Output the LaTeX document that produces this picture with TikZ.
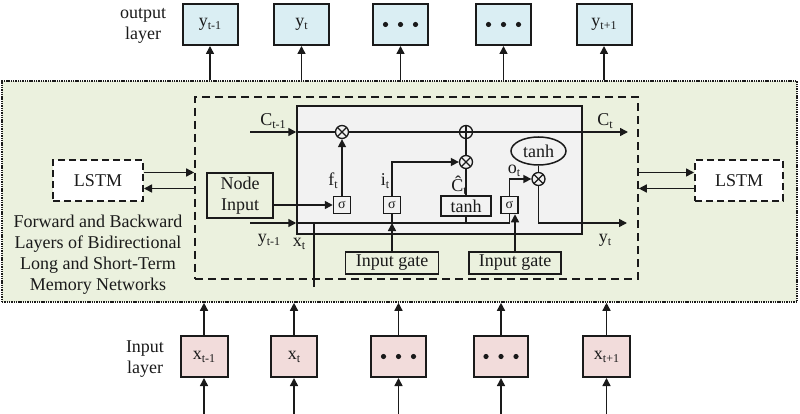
\documentclass[tikz,border=0pt]{standalone}
\usepackage{fontspec}
\setmainfont{Liberation Serif}
\usetikzlibrary{arrows.meta,shapes.geometric}
\definecolor{grn}{HTML}{EBF1DE}
\definecolor{oblue}{HTML}{DAEEF3}
\definecolor{ipink}{HTML}{F2DCDB}
\definecolor{cellg}{HTML}{F2F2F2}
\definecolor{ink}{HTML}{1A1A1A}
\newcommand\sbx[1]{\raisebox{-0.35ex}{\fontsize{12}{12}\selectfont #1}}
\begin{document}
\begin{tikzpicture}[x=1pt,y=-1pt,font=\fontsize{18}{21}\selectfont,color=ink,
  arr/.style={-{Triangle[length=8pt,width=8pt]},line width=1.5pt},
  ln/.style={line width=1.5pt},
  obox/.style={draw,line width=2pt,fill=oblue,minimum width=55pt,minimum height=41pt,inner sep=0pt},
  ibox/.style={draw,line width=2pt,fill=ipink,minimum height=41pt,inner sep=0pt},
  sbox/.style={draw,line width=1.5pt,fill=cellg,minimum width=17pt,minimum height=17pt,inner sep=0pt,font=\fontsize{14}{14}\selectfont},
  gbox/.style={draw,line width=1.5pt,fill=grn,minimum height=22pt,inner sep=0pt},
  lstmbox/.style={draw,line width=2pt,dash pattern=on 7pt off 4pt,fill=white,minimum height=41pt,inner sep=0pt},
  otimes/.style={circle,draw,line width=1.3pt,minimum size=13pt,inner sep=0pt,fill=cellg,
    path picture={\draw[line width=1.3pt] (path picture bounding box.north west) -- (path picture bounding box.south east)
      (path picture bounding box.north east) -- (path picture bounding box.south west);}},
  oplus/.style={circle,draw,line width=1.3pt,minimum size=13pt,inner sep=0pt,fill=cellg,
    path picture={\draw[line width=1.3pt] (path picture bounding box.north) -- (path picture bounding box.south)
      (path picture bounding box.east) -- (path picture bounding box.west);}},
  lbl/.style={inner sep=0pt}]
\useasboundingbox (0,0) rectangle (800,414);
\coordinate (bot) at (0,414);

% green region
\node[draw,line width=1.6pt,dash pattern=on 1.4pt off 0.9pt,fill=grn,minimum width=795pt,minimum height=221pt,inner sep=0pt] (green) at (399.5,191.5) {};
% dashed inner box
\node[draw,line width=1.6pt,dash pattern=on 8pt off 5pt,minimum width=443pt,minimum height=182pt,inner sep=0pt] (dbox) at (416.5,188) {};
% cell
\node[draw,line width=1.5pt,fill=cellg,minimum width=285pt,minimum height=128pt,inner sep=0pt] (cell) at (439.5,170) {};

% output layer
\node[align=center,lbl] (outl) at (143,26) {output\\layer};
\node[obox] (ob1) at (210,24.5) {y\sbx{t-1}};
\node[obox] (ob2) at (301.5,24.5) {y\sbx{t}};
\node[obox] (ob3) at (400.5,24.5) {};
\node[obox] (ob4) at (503.5,24.5) {};
\node[obox] (ob5) at (604,24.5) {y\sbx{t+1}};
\foreach \n in {ob1,ob2,ob3,ob4,ob5}{\draw[arr] (\n.south |- green.north) -- (\n.south);}

% input layer
\node[align=center,lbl] (inl) at (145,359) {Input\\layer};
\node[ibox,minimum width=47pt] (ib1) at (204,356.5) {x\sbx{t-1}};
\node[ibox,minimum width=46pt] (ib2) at (294,356.5) {x\sbx{t}};
\node[ibox,minimum width=55pt] (ib3) at (398.5,356.5) {};
\node[ibox,minimum width=54pt] (ib4) at (501,356.5) {};
\node[ibox,minimum width=47pt] (ib5) at (606.5,356.5) {x\sbx{t+1}};
\foreach \n in {ib1,ib2,ib3,ib4,ib5}{
  \draw[arr] (\n.north) -- (\n.north |- green.south);
  \draw[arr] (\n.south |- bot) -- (\n.south);}
\foreach \n in {ob3,ob4,ib3,ib4}{
  \fill (\n.center) circle (2.6) ([xshift=-15pt]\n.center) circle (2.6) ([xshift=15pt]\n.center) circle (2.6);}

% side LSTMs
\node[lstmbox,minimum width=90pt] (ll) at (98,180.5) {LSTM};
\node[lstmbox,minimum width=88pt] (rl) at (739,180.5) {LSTM};
\coordinate (la) at ([yshift=8pt]ll.east);
\coordinate (lb) at ([yshift=-8pt]ll.east);
\coordinate (ra) at ([yshift=8pt]rl.west);
\coordinate (rb) at ([yshift=-8pt]rl.west);
\draw[arr] (la) -- (la -| dbox.west);
\draw[arr] (lb -| dbox.west) -- (lb);
\draw[arr] (ra -| dbox.east) -- (ra);
\draw[arr] (rb) -- (rb -| dbox.east);
\node[align=center,lbl] (desc) at (98,255) {Forward and Backward\\Layers of Bidirectional\\Long and Short-Term\\Memory Networks};

% cell internals
\node[otimes] (fx) at (342,132) {};
\node[oplus] (plus) at (466,132) {};
\node[otimes] (ix) at (466,162) {};
\node[ellipse,draw,line width=1.5pt,fill=cellg,minimum width=55pt,minimum height=28pt,inner sep=0pt] (te) at (538.5,151) {tanh};
\node[otimes] (ox) at (538.5,179) {};
\node[sbox] (s1) at (342,205) {σ};
\node[sbox] (s2) at (392,205) {σ};
\node[sbox] (s3) at (509.5,205) {σ};
\node[draw,line width=1.5pt,fill=cellg,minimum width=50pt,minimum height=20pt,inner sep=0pt] (tb) at (466,206) {tanh};
\node[draw,line width=1.5pt,fill=grn,minimum width=66pt,minimum height=45pt,inner sep=0pt,align=center] (ni) at (240,195.5) {Node\\Input};
\node[gbox,minimum width=93pt] (ig1) at (392,263) {Input gate};
\node[gbox,minimum width=92pt] (ig2) at (515,263) {Input gate};

\coordinate (cin) at (250,132);
\coordinate (cout) at (628,132);
\coordinate (yin) at (250,223);
\coordinate (yout) at (627,223);
\coordinate (xbot) at (314,287);

% cell state line
\draw[arr] (cin) -- (cin -| cell.west);
\draw[ln] (cin -| cell.west) -- (fx.west);
\draw[ln] (fx.east) -- (plus.west);
\draw[arr] (plus.east) -- (cout);
\node[lbl] (lc1) at (273,121) {C\sbx{t-1}};
\node[lbl] (lc2) at (605,121) {C\sbx{t}};

% y_{t-1} line
\draw[arr] (yin) -- (yin -| cell.west);
\draw[ln] (yin -| cell.west) -| (s3.south);
\draw[ln] (s2.south) -- (s2.south |- yin);
\draw[ln] (tb.south) -- (tb.south |- yin);
\draw[arr] (ig1.north) -- (ig1.north |- yin);
\draw[arr] (ig2.north) -- (ig2.north |- s3.south);
\draw[ln] (xbot) -- (xbot |- yin);
\node[lbl] (ly1) at (269,240) {y\sbx{t-1}};
\node[lbl] (lx) at (299,244) {x\sbx{t}};

% gates
\draw[arr] (ni.east |- s1.west) -- (s1.west);
\draw[arr] (s1.north) -- (fx.south);
\node[lbl] (lf) at (333,181) {f\sbx{t}};
\draw[arr] (s2.north) |- (ix.west);
\node[lbl] (li) at (385,181) {i\sbx{t}};
\draw[ln] (tb.north) -- (ix.south);
\node[lbl] (lch) at (459,185) {\^{C}\sbx{t}};
\draw[ln] (ix.north) -- (plus.south);
\draw[arr] (s3.north) |- (ox.west);
\node[lbl] (lo) at (514,171) {o\sbx{t}};
\draw[ln] (te.south) -- (ox.north);
\draw[arr] (ox.south) |- (yout);
\node[lbl] (lyt) at (605,240) {y\sbx{t}};
\end{tikzpicture}
\end{document}
